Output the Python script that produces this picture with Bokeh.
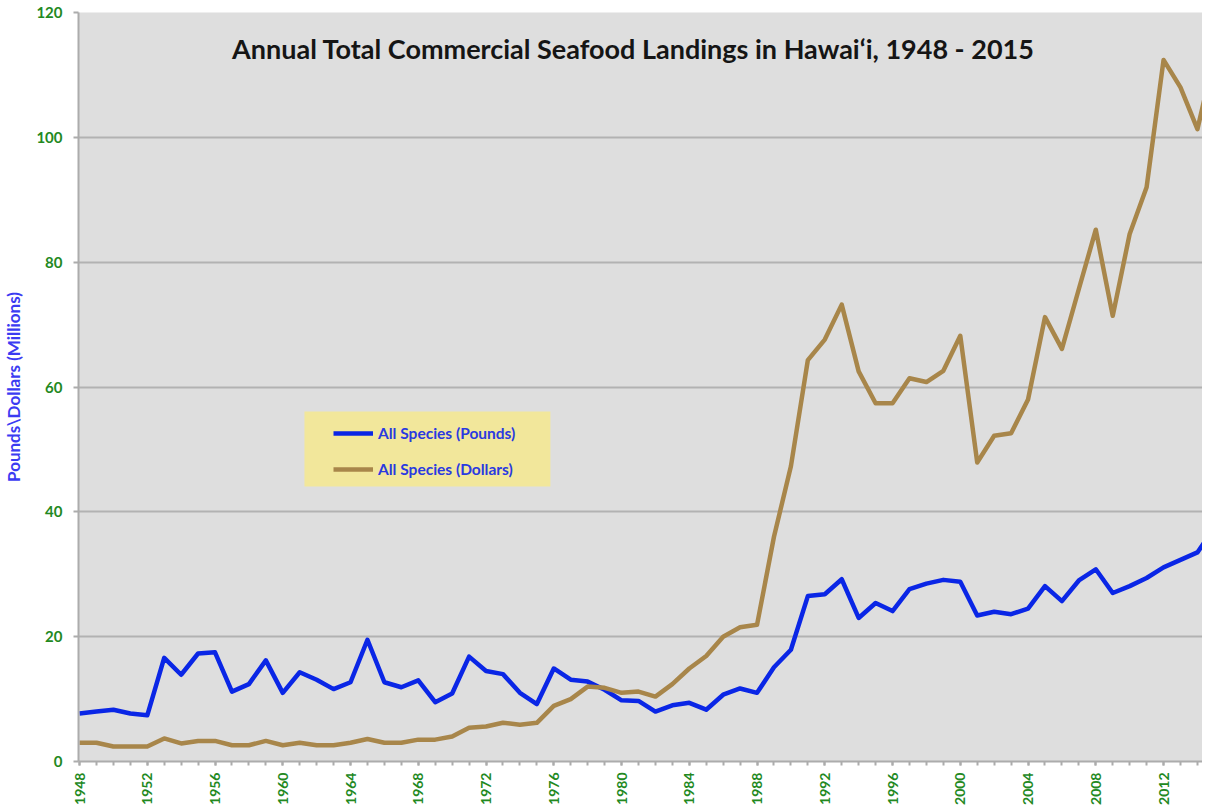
from bokeh.plotting import figure
from bokeh.models import (Range1d, FixedTicker, Legend, LegendItem, Label,
                          BoxAnnotation)
from bokeh.embed import file_html
from bokeh.resources import INLINE

years = list(range(1948, 2016))

pounds = [7.7, 8.0, 8.3, 7.7, 7.4, 16.6, 13.9, 17.3, 17.5, 11.2,
          12.4, 16.2, 11.0, 14.3, 13.1, 11.6, 12.7, 19.5, 12.7, 11.9,
          13.0, 9.5, 10.9, 16.8, 14.5, 14.0, 11.0, 9.2, 14.9, 13.1,
          12.8, 11.5, 9.8, 9.7, 8.0, 9.0, 9.4, 8.3, 10.7, 11.7,
          11.0, 15.1, 17.9, 26.5, 26.8, 29.2, 23.0, 25.4, 24.1, 27.6,
          28.5, 29.1, 28.8, 23.4, 24.0, 23.6, 24.5, 28.1, 25.7, 29.0,
          30.8, 27.0, 28.1, 29.4, 31.1, 32.3, 33.5, 37.5]

dollars = [3.0, 3.0, 2.4, 2.4, 2.4, 3.7, 2.9, 3.3, 3.3, 2.6,
           2.6, 3.3, 2.6, 3.0, 2.6, 2.6, 3.0, 3.6, 3.0, 3.0,
           3.5, 3.5, 4.0, 5.4, 5.6, 6.2, 5.9, 6.2, 8.9, 10.0,
           12.0, 11.8, 11.0, 11.2, 10.4, 12.4, 14.9, 16.9, 20.0, 21.5,
           21.9, 36.0, 47.3, 64.3, 67.6, 73.2, 62.5, 57.4, 57.4, 61.4,
           60.8, 62.6, 68.2, 47.9, 52.2, 52.6, 58.0, 71.2, 66.1, 75.7,
           85.2, 71.4, 84.5, 92.0, 112.4, 108.0, 101.3, 113.0]

series_names = ["All Species (Pounds)", "All Species (Dollars)"]
title_text = "Annual Total Commercial Seafood Landings in Hawai\u2018i, 1948 - 2015"
y_label = "Pounds\\Dollars (Millions)"
major_years = list(range(1948, 2016, 4))
y_ticks = [0, 20, 40, 60, 80, 100, 120]

BLUE = "#0a26e6"
BROWN = "#a8864a"
GREEN = "#23891f"
FONT = "Lato"

p = figure(frame_width=1124, frame_height=749,
           min_border_left=70, min_border_right=0, min_border_top=12,
           min_border_bottom=43,
           x_range=Range1d(1947.94, 2014.3), y_range=Range1d(0, 120),
           output_backend="svg", toolbar_location=None,
           background_fill_color="#dedede", border_fill_color="white")
p.outline_line_color = None

# grid
p.xgrid.visible = False
p.ygrid.ticker = FixedTicker(ticks=y_ticks)
p.ygrid.grid_line_color = "#b2b2b2"
p.ygrid.grid_line_width = 2

# y axis
yax = p.yaxis[0]
yax.ticker = FixedTicker(ticks=y_ticks)
yax.axis_line_color = "#acacac"
yax.axis_line_width = 2
yax.major_tick_line_color = "#acacac"
yax.major_tick_line_width = 2
yax.major_tick_out = 5
yax.major_tick_in = 0
yax.minor_tick_line_color = None
yax.major_label_text_color = GREEN
yax.major_label_text_font = FONT
yax.major_label_text_font_style = "bold"
yax.major_label_text_font_size = "15px"
yax.major_label_standoff = 11
yax.axis_label = y_label
yax.axis_label_text_color = "#3b3bf2"
yax.axis_label_text_font = FONT
yax.axis_label_text_font_style = "bold"
yax.axis_label_text_font_size = "17px"
yax.axis_label_standoff = 9

# x axis
xax = p.xaxis[0]
xax.ticker = FixedTicker(ticks=major_years, minor_ticks=years)
xax.axis_line_color = "#acacac"
xax.axis_line_width = 2
xax.major_tick_line_color = "#acacac"
xax.major_tick_line_width = 2
xax.major_tick_out = 4
xax.major_tick_in = 0
xax.minor_tick_line_color = "#acacac"
xax.minor_tick_line_width = 2
xax.minor_tick_out = 4
xax.minor_tick_in = 0
xax.major_label_orientation = 1.5708
xax.major_label_text_color = GREEN
xax.major_label_text_font = FONT
xax.major_label_text_font_style = "bold"
xax.major_label_text_font_size = "14px"
xax.major_label_standoff = 7

# legend background
p.add_layout(BoxAnnotation(left=1961.28, right=1975.8, bottom=44.07, top=56.09,
                           fill_color="#f2e79b", fill_alpha=1.0,
                           line_color=None, level="underlay"))

r1 = p.line(years, pounds, line_color=BLUE, line_width=4.5, line_join="round")
r2 = p.line(years, dollars, line_color=BROWN, line_width=4.5, line_join="round")

legend = Legend(items=[LegendItem(label=series_names[0], renderers=[r1]),
                       LegendItem(label=series_names[1], renderers=[r2])],
                location=(255, 282), padding=12, spacing=16,
                glyph_width=40, glyph_height=20, label_height=20,
                label_standoff=5,
                label_text_color="#2a3ae0", label_text_font=FONT,
                label_text_font_style="bold", label_text_font_size="15.5px",
                background_fill_alpha=0, border_line_color=None)
p.add_layout(legend)

p.add_layout(Label(x=1980.7, y=114.3, text=title_text, text_align="center",
                   text_baseline="middle", text_font=FONT,
                   text_font_style="bold", text_font_size="27px",
                   text_color="#151515"))

open("out.html", "w").write(file_html(p, INLINE))
